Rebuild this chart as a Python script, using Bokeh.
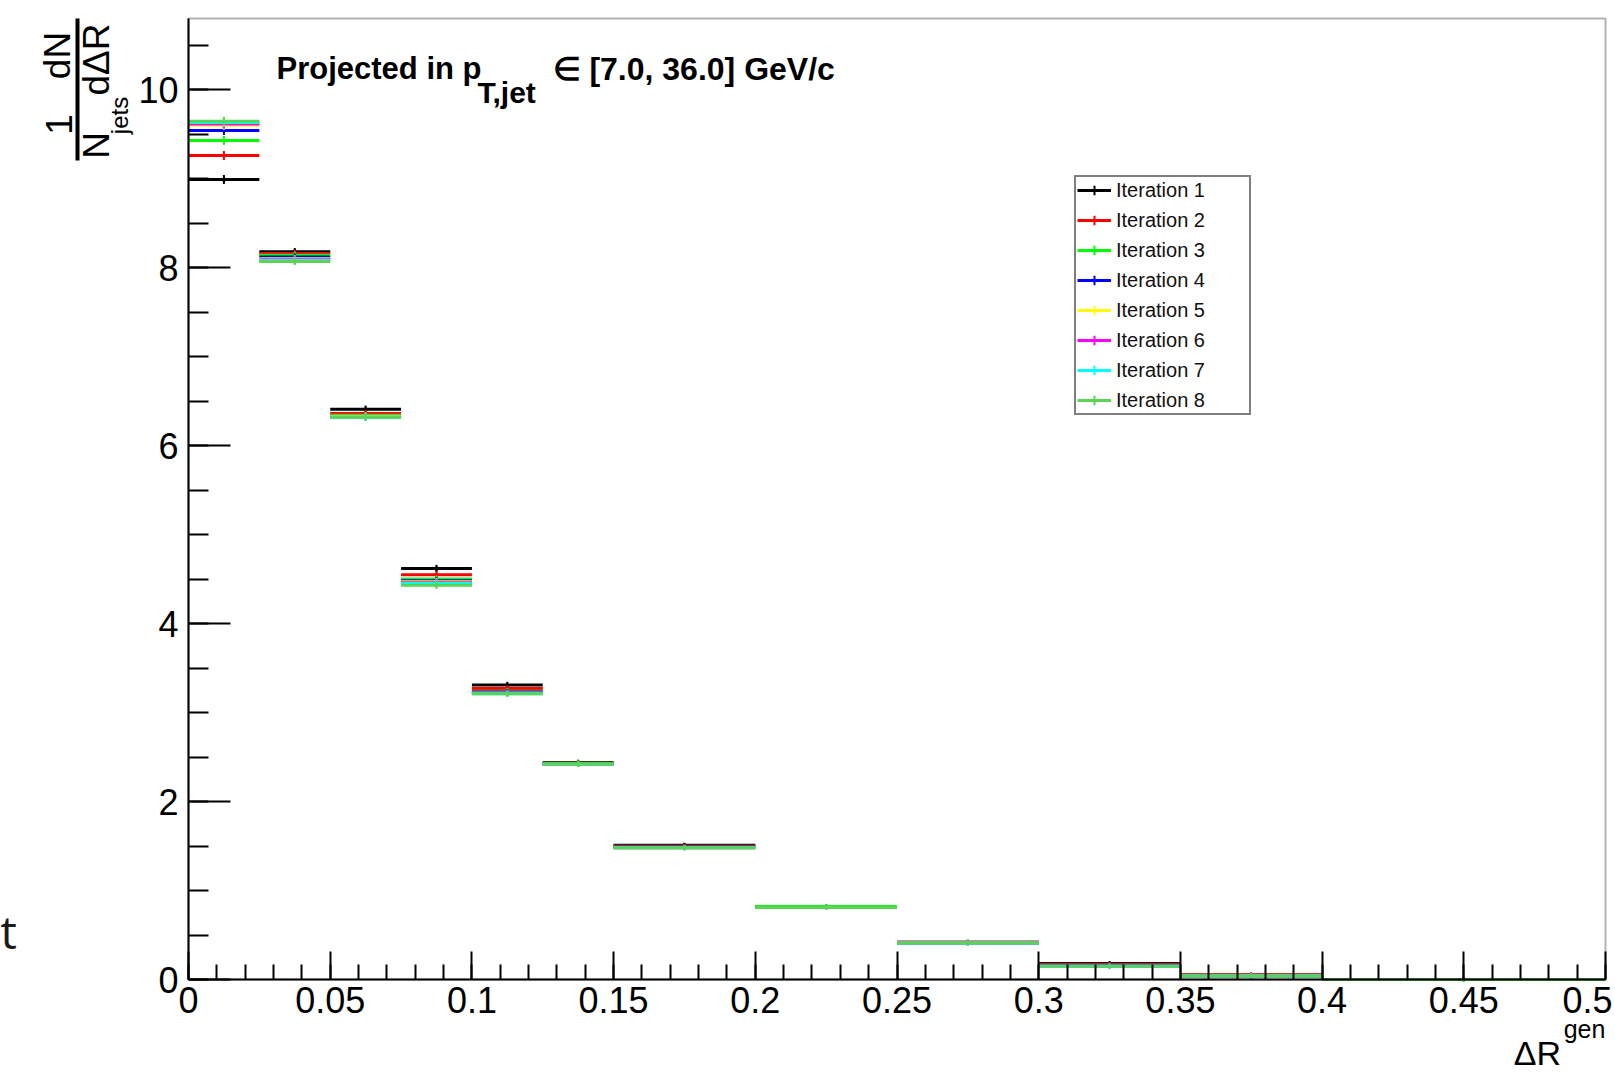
import math
import numpy as np
from bokeh.plotting import figure
from bokeh.models import (ColumnDataSource, FixedTicker, Label, Legend, LegendItem,
                          Range1d, BoxAnnotation)
from bokeh.embed import file_html
from bokeh.resources import INLINE

# ---------------- data ----------------
bin_edges = [0, 0.025, 0.05, 0.075, 0.1, 0.125, 0.15, 0.2, 0.25, 0.3, 0.35, 0.4, 0.5]

iter_1 = [8.99, 8.18, 6.41, 4.62, 3.31, 2.44, 1.51, 0.82, 0.42, 0.18, 0.05, 0.00]
iter_2 = [9.26, 8.16, 6.36, 4.55, 3.27, 2.43, 1.50, 0.82, 0.42, 0.17, 0.05, 0.00]
iter_3 = [9.43, 8.14, 6.34, 4.50, 3.24, 2.43, 1.49, 0.82, 0.41, 0.16, 0.04, 0.00]
iter_4 = [9.54, 8.12, 6.33, 4.48, 3.23, 2.42, 1.49, 0.81, 0.41, 0.16, 0.04, 0.00]
iter_5 = [9.60, 8.10, 6.33, 4.47, 3.22, 2.42, 1.48, 0.81, 0.41, 0.15, 0.04, 0.00]
iter_6 = [9.615, 8.09, 6.32, 4.46, 3.22, 2.42, 1.48, 0.81, 0.41, 0.15, 0.04, 0.00]
iter_7 = [9.63, 8.08, 6.32, 4.45, 3.21, 2.42, 1.48, 0.81, 0.41, 0.15, 0.04, 0.00]
iter_8 = [9.645, 8.07, 6.32, 4.43, 3.21, 2.42, 1.48, 0.81, 0.41, 0.15, 0.04, 0.00]

errors = [0.05, 0.04, 0.04, 0.04, 0.035, 0.03, 0.02, 0.012, 0.008, 0.005, 0.003, 0.001]

series_values = [iter_1, iter_2, iter_3, iter_4, iter_5, iter_6, iter_7, iter_8]
series_names = ["Iteration 1", "Iteration 2", "Iteration 3", "Iteration 4",
                "Iteration 5", "Iteration 6", "Iteration 7", "Iteration 8"]
series_colors = ["#000000", "#ff0000", "#00ff00", "#0000ff",
                 "#ffff00", "#ff00ff", "#00ffff", "#59d454"]

x_ticks = [0, 0.05, 0.1, 0.15, 0.2, 0.25, 0.3, 0.35, 0.4, 0.45, 0.5]
x_tick_labels = ["0", "0.05", "0.1", "0.15", "0.2", "0.25", "0.3", "0.35", "0.4", "0.45", "0.5"]
y_ticks = [0, 2, 4, 6, 8, 10]

X_MAX = 0.5
Y_MAX = 10.8

# ---------------- layout (canvas pixels) ----------------
W, H = 1612, 1078
FL, FR, FB, FT = 188.0, 1605.0, 979.0, 18.0     # inner plot box
SX = (FR - FL) / X_MAX                          # px per x unit
SY = (FB - FT) / Y_MAX                          # px per y unit


def dx(px):
    return (px - FL) / SX


def dy(py):
    return (FB - py) / SY


FONT = "Liberation Sans"
p = figure(width=W, height=H,
           x_range=Range1d(dx(0), dx(W)), y_range=Range1d(dy(H), dy(0)),
           output_backend="svg", toolbar_location=None,
           min_border_left=0, min_border_right=0, min_border_top=0, min_border_bottom=0)
p.title.visible = False
p.xgrid.visible = False
p.ygrid.visible = False
p.outline_line_color = None
p.background_fill_color = "white"
p.border_fill_color = "white"

x_minor = [round(v, 3) for v in np.arange(0, 0.5001, 0.01)]
y_minor = [round(v, 2) for v in np.arange(0, 10.81, 0.5)]

xa = p.xaxis[0]
xa.fixed_location = 0
xa.bounds = (0, X_MAX)
xa.ticker = FixedTicker(ticks=x_ticks, minor_ticks=x_minor)
xa.major_label_overrides = {t: l for t, l in zip(x_ticks, x_tick_labels)}
xa.major_tick_in = 28
xa.major_tick_out = 0
xa.minor_tick_in = 15
xa.minor_tick_out = 0
xa.major_label_standoff = 7

ya = p.yaxis[0]
ya.fixed_location = 0
ya.bounds = (0, Y_MAX)
ya.ticker = FixedTicker(ticks=y_ticks, minor_ticks=y_minor)
ya.major_tick_in = 42
ya.major_tick_out = 0
ya.minor_tick_in = 20
ya.minor_tick_out = 0
ya.major_label_standoff = 10

for ax in (xa, ya):
    ax.axis_line_width = 2
    ax.axis_line_color = "black"
    ax.major_tick_line_width = 2
    ax.minor_tick_line_width = 2
    ax.major_tick_line_color = "black"
    ax.minor_tick_line_color = "black"
    ax.major_label_text_font = FONT
    ax.major_label_text_font_size = "36px"
    ax.major_label_text_color = "black"

# frame box
p.add_layout(BoxAnnotation(left=0, right=X_MAX, bottom=0, top=Y_MAX,
                           fill_alpha=0, line_color="black", line_width=2))

# ---------------- marks ----------------
x0 = np.array(bin_edges[:-1])
x1 = np.array(bin_edges[1:])
xc = (x0 + x1) / 2
err = np.array(errors)

items = []
for vals, name, col in zip(series_values, series_names, series_colors):
    y = np.array(vals)
    src = ColumnDataSource(dict(x0=x0, x1=x1, xc=xc, y=y, ylo=y - err, yhi=y + err))
    h = p.segment(x0="x0", y0="y", x1="x1", y1="y", source=src, line_color=col, line_width=3)
    p.segment(x0="xc", y0="ylo", x1="xc", y1="yhi", source=src, line_color=col, line_width=2)
    pt = p.scatter(x="xc", y="y", source=src, marker="cross", size=5,
                   line_color=col, line_width=2)
    items.append(LegendItem(label=name, renderers=[h, pt]))

legend = Legend(items=items, location=(1074, H - 415), margin=0, padding=1, spacing=6,
                glyph_height=24, glyph_width=34, label_height=24, label_width=132,
                label_standoff=5, label_text_font=FONT, label_text_font_size="20px",
                label_text_color="#111111", label_text_baseline="middle",
                border_line_color="black", border_line_width=2,
                background_fill_color="white", background_fill_alpha=1)
p.add_layout(legend)


# ---------------- texts (positions given in canvas pixels, text centres) ----------------
def lab(text, px, py, size, angle=0.0, align="left", style="normal", font=FONT, color="black"):
    p.add_layout(Label(x=dx(px), y=dy(py), text=text, angle=angle,
                       text_font=font, text_font_size=f"{size}px", text_font_style=style,
                       text_align=align, text_baseline="middle", text_color=color))


# title
lab("Projected in p", 276, 68, 31, style="bold")
lab("T,jet", 477, 92, 30, style="bold")
lab("\u2208 [7.0, 36.0] GeV/c", 552, 68, 32, style="bold")

# y-axis title: 1/N_jets dN/dΔR (rotated)
rot = math.pi / 2
lab("1", 58, 124, 37, angle=rot, align="center")
lab("dN", 57, 55, 37, angle=rot, align="center")
lab("N", 96, 145, 37, angle=rot, align="center")
lab("jets", 119, 115, 24, angle=rot, align="center")
lab("d\u0394R", 96, 59, 37, angle=rot, align="center")
p.add_layout(BoxAnnotation(left=dx(75), right=dx(79), top=dy(18), bottom=dy(160),
                           fill_color="black", fill_alpha=1, line_alpha=0))

# x-axis title
lab("\u0394R", 1537, 1052, 34, align="center")
lab("gen", 1584, 1028, 25, align="center")

# stray slide character at the left edge
lab("t", 0, 930, 46, font="Open Sans", color="#1a1a1a")

open("out.html", "w").write(file_html(p, INLINE))
